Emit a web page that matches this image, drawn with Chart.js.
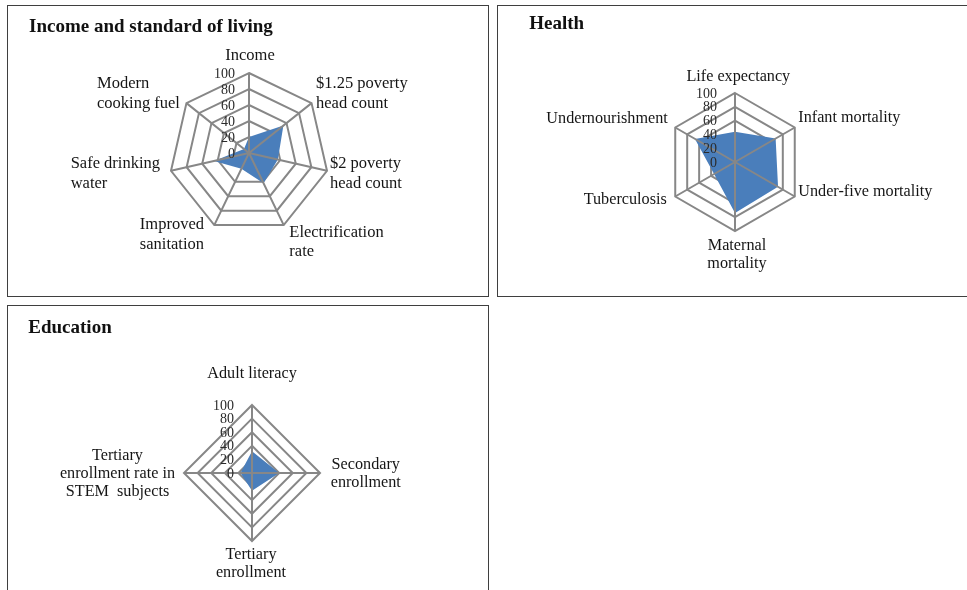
<!DOCTYPE html>
<html>
<head>
<meta charset="utf-8">
<script src="https://cdn.jsdelivr.net/npm/chart.js@4.4.1/dist/chart.umd.min.js"></script>
<style>
html,body{margin:0;padding:0;background:#fff;width:967px;height:590px;overflow:hidden;}
.panel{position:absolute;box-sizing:border-box;border:1px solid #3f3f3f;background:#fff;}
.panel canvas{position:absolute;left:0;top:0;}
.title{position:absolute;font-family:"Liberation Serif","Times New Roman",serif;font-weight:bold;font-size:19px;line-height:1;color:#111;white-space:nowrap;z-index:2;}
</style>
</head>
<body>
<div class="panel" style="left:7px;top:5px;width:482px;height:292px;">
  <canvas id="c1" width="480" height="290"></canvas>
  <div class="title" style="left:21px;top:9.6px;">Income and standard of living</div>
</div>
<div class="panel" style="left:497px;top:5px;width:480px;height:292px;">
  <canvas id="c2" width="478" height="290"></canvas>
  <div class="title" style="left:31.3px;top:7.4px;">Health</div>
</div>
<div class="panel" style="left:7px;top:305px;width:482px;height:300px;">
  <canvas id="c3" width="480" height="298"></canvas>
  <div class="title" style="left:20.3px;top:11.4px;">Education</div>
</div>
<script>
// ---------- data ----------
const tickValues = [0, 20, 40, 60, 80, 100];

const incomeCategories = [
  ["Income"],
  ["$1.25 poverty", "head count"],
  ["$2 poverty", "head count"],
  ["Electrification", "rate"],
  ["Improved", "sanitation"],
  ["Safe drinking", "water"],
  ["Modern", "cooking fuel"]
];
const incomeValues = [20, 55, 37, 42, 22, 45, 8];

const healthCategories = [
  ["Life expectancy"],
  ["Infant mortality"],
  ["Under-five mortality"],
  ["Maternal", "mortality"],
  ["Tuberculosis"],
  ["Undernourishment"]
];
const healthValues = [44, 68, 72, 74, 35, 67];

const educationCategories = [
  ["Adult literacy"],
  ["Secondary", "enrollment"],
  ["Tertiary", "enrollment"],
  ["Tertiary", "enrollment rate in", "STEM  subjects"]
];
const educationValues = [32, 40, 26, 17];

// ---------- styling ----------
const serif = "'Liberation Serif', 'Times New Roman', serif";
const gridColor = '#878787';
const gridWidth = 2;
const fillColor = '#4a7ebb';

const excelRadar = {
  id: 'excelRadar',
  afterDatasetsDraw(chart, args, opts) {
    const s = chart.scales.r;
    const ctx = chart.ctx;
    const n = chart.data.labels.length;
    ctx.save();
    // spokes drawn above the filled area
    ctx.strokeStyle = gridColor;
    ctx.lineWidth = gridWidth;
    ctx.beginPath();
    for (let i = 0; i < n; i++) {
      const p = s.getPointPosition(i, s.drawingArea);
      ctx.moveTo(s.xCenter, s.yCenter);
      ctx.lineTo(p.x, p.y);
    }
    ctx.stroke();
    // value tick labels, right aligned beside the first spoke
    ctx.font = '14px ' + serif;
    ctx.fillStyle = '#2b2b2b';
    ctx.textAlign = 'right';
    ctx.textBaseline = 'middle';
    s.ticks.forEach(t => {
      const d = s.getDistanceFromCenterForValue(t.value);
      ctx.fillText(String(t.value), s.xCenter - opts.tickGap, s.yCenter - d + 1);
    });
    // category labels
    ctx.font = opts.labelSize + 'px ' + serif;
    ctx.fillStyle = '#151515';
    ctx.textBaseline = 'alphabetic';
    ctx.textAlign = 'left';
    chart.data.labels.forEach((lab, i) => {
      const lines = Array.isArray(lab) ? lab : [lab];
      const p = s.getPointPosition(i, s.drawingArea);
      const off = opts.offsets[i];
      const widths = lines.map(l => ctx.measureText(l).width);
      const W = Math.max(...widths);
      const sn = Math.sin(s.getIndexAngle(i));
      let left;
      if (Math.abs(sn) < 0.01) left = p.x + off[0] - W / 2;
      else if (sn > 0) left = p.x + off[0];
      else left = p.x + off[0] - W;
      lines.forEach((l, k) => {
        const x = opts.align === 'center' ? left + (W - widths[k]) / 2 : left;
        ctx.fillText(l, x, p.y + off[1] + k * opts.lineHeight);
      });
    });
    ctx.restore();
  }
};

function makeRadar(id, categories, values, pad, labelOpts) {
  return new Chart(document.getElementById(id), {
    type: 'radar',
    data: {
      labels: categories,
      datasets: [{
        data: values,
        backgroundColor: fillColor,
        borderColor: fillColor,
        borderWidth: 0,
        pointRadius: 0,
        fill: true,
        tension: 0
      }]
    },
    options: {
      responsive: false,
      animation: false,
      devicePixelRatio: 1,
      events: [],
      layout: { padding: pad },
      plugins: {
        legend: { display: false },
        tooltip: { enabled: false },
        title: { display: false },
        excelRadar: labelOpts
      },
      scales: {
        r: {
          min: 0,
          max: 100,
          ticks: { display: false, stepSize: 20 },
          afterBuildTicks: sc => { sc.ticks = tickValues.map(v => ({ value: v })); },
          grid: { color: gridColor, lineWidth: gridWidth },
          angleLines: { display: false },
          pointLabels: { display: false }
        }
      }
    },
    plugins: [excelRadar]
  });
}

// Income: centre (241,147) local, radius 80
makeRadar('c1', incomeCategories, incomeValues,
  { left: 161, top: 67, right: 159, bottom: 63 },
  { tickGap: 14, labelSize: 16.5, lineHeight: 19.7, align: 'left',
    offsets: [[1, -13], [4.5, -14.8], [3, -2.5], [5.6, 11.6], [-10.3, 4.2], [-11, -2.5], [-6.5, -14.8]] });

// Health: centre (237,156) local, radius 69
makeRadar('c2', healthCategories, healthValues,
  { left: 168, top: 87, right: 172, bottom: 65 },
  { tickGap: 18, labelSize: 16.2, lineHeight: 18.3, align: 'center',
    offsets: [[3.3, -12.5], [3.5, -5.5], [3.5, -0.8], [2, 19], [-8.5, 7.5], [-7.5, -4.8]] });

// Education: centre (244,167) local, radius 68
makeRadar('c3', educationCategories, educationValues,
  { left: 176, top: 99, right: 168, bottom: 63 },
  { tickGap: 18, labelSize: 16.2, lineHeight: 17.8, align: 'center',
    offsets: [[0, -26.7], [10.7, -4], [-1, 18.3], [-9, -13]] });
</script>
</body>
</html>
